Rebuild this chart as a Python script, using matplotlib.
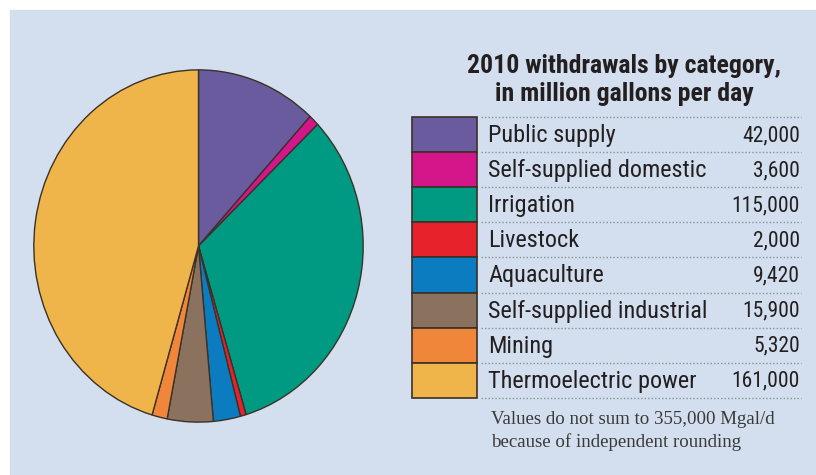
import matplotlib.pyplot as plt
from matplotlib.patches import Rectangle

categories = ["Public supply", "Self-supplied domestic", "Irrigation",
              "Livestock", "Aquaculture", "Self-supplied industrial",
              "Mining", "Thermoelectric power"]
values = [42000, 3600, 115000, 2000, 9420, 15900, 5320, 161000]
value_labels = ["42,000", "3,600", "115,000", "2,000", "9,420", "15,900",
                "5,320", "161,000"]
colors = ["#6A5B9E", "#D5168B", "#009A83", "#E8222B", "#0B7CBF",
          "#8B725F", "#F0863A", "#EFB54B"]

title = "2010 withdrawals by category,\nin million gallons per day"
note = "Values do not sum to 355,000 Mgal/d\nbecause of independent rounding"

W, H = 816, 475
COND = ["Roboto Condensed", "Liberation Sans", "DejaVu Sans"]
SERIF = ["Liberation Serif", "DejaVu Serif"]


def main():
    fig = plt.figure(figsize=(W / 100, H / 100), dpi=100, facecolor="white")

    # background panel + legend table, drawn in pixel coordinates
    bg = fig.add_axes([0, 0, 1, 1])
    bg.set_xlim(0, W)
    bg.set_ylim(H, 0)
    bg.axis("off")
    bg.add_patch(Rectangle((10, 10), W - 10, H - 10, color="#D3DFEE", zorder=0))

    bg.text(624, 80, title, ha="center", va="center", fontsize=18.5,
            fontweight="bold", family=COND, color="#231F20", linespacing=1.22)

    top, row_h = 117, 35.1
    for i, (cat, lab, col) in enumerate(zip(categories, value_labels, colors)):
        y0 = top + i * row_h
        bg.add_patch(Rectangle((412, y0), 65, row_h, facecolor=col,
                               edgecolor="#3A3128", lw=1.2, zorder=2))
        bg.text(488, y0 + row_h / 2 + 1, cat, ha="left", va="center",
                fontsize=17.5, family=COND, color="#231F20")
        bg.text(800, y0 + row_h / 2 + 1, lab, ha="right", va="center",
                fontsize=15.5, family=COND, color="#231F20")
    for i in range(len(categories) + 1):
        y = top + i * row_h
        bg.plot([481, 801], [y, y], color="#8A8F96", lw=1, ls=(0, (1, 1.5)))

    bg.text(491, 431, note, ha="left", va="center", fontsize=13.6,
            family=SERIF, color="#3A3A3A", linespacing=1.3)

    # pie, slightly taller than wide like the reference
    left, right, ptop, pbot = 33, 364, 69, 423
    ax = fig.add_axes([left / W, 1 - pbot / H, (right - left) / W,
                       (pbot - ptop) / H])
    ax.pie(values, colors=colors, startangle=90, counterclock=False,
           wedgeprops=dict(edgecolor="#3A3128", linewidth=1))
    ax.set_aspect("auto")
    ax.set_xlim(-1.005, 1.005)
    ax.set_ylim(-1.005, 1.005)
    ax.axis("off")

    fig.savefig("out.png", dpi=100, facecolor="white")


if __name__ == "__main__":
    main()
